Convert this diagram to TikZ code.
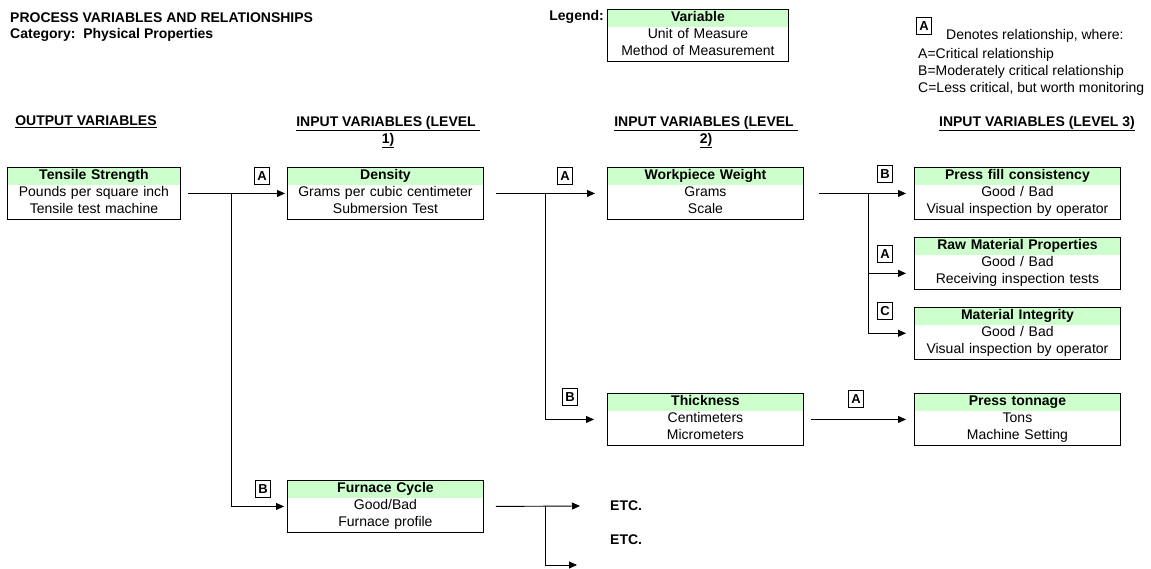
\documentclass[tikz,border=0pt]{standalone}
\usepackage{fontspec}
\setmainfont{Liberation Sans}
\usepackage{xcolor}
\usetikzlibrary{arrows.meta, positioning}

\definecolor{hdrgreen}{RGB}{204,255,204}

\begin{document}
\begin{tikzpicture}[
        x=1pt, y=-1pt,
        varbox/.style={rectangle, draw, line width=0.9pt, text width=#1, align=center,
            inner xsep=3pt, inner ysep=0.5pt, anchor=north west,
            font=\fontsize{14}{17}\selectfont,
            execute at begin node=\strut, execute at end node=\strut,
            path picture={\fill[hdrgreen] (path picture bounding box.north west)
                rectangle ([yshift=-17.5pt]path picture bounding box.north east);}},
        relbox/.style={rectangle, draw, line width=0.8pt, font=\bfseries\fontsize{13}{15}\selectfont,
            inner sep=0pt, minimum width=15pt, minimum height=17pt},
        arrow/.style={line width=0.9pt, -{Triangle[length=8pt, width=7pt]}},
        colhead/.style={font=\bfseries\fontsize{14}{17}\selectfont, align=center, anchor=north, inner sep=0pt},
        notetxt/.style={font=\fontsize{14}{17}\selectfont, anchor=west, inner sep=0pt},
        boldtxt/.style={font=\bfseries\fontsize{14}{17}\selectfont, anchor=west, inner sep=0pt}
    ]
        \useasboundingbox (0,0) rectangle (1151,569);

        % Title and legend
        \node[boldtxt] (title) at (10,18) {PROCESS VARIABLES AND RELATIONSHIPS};
        \node[boldtxt] (category) at (10,35) {Category:\ \ Physical Properties};
        \node[boldtxt, anchor=east] (legendlbl) at (604,17) {Legend:};
        \node[varbox=175pt] (legend) at (607,9) {\textbf{Variable}\\Unit of Measure\\Method of Measurement};
        \node[relbox] (relkey) at (924,26) {A};
        \node[notetxt] (keytxt) at (946,36) {Denotes relationship, where:};
        \node[notetxt] (keyA) at (918,55) {A=Critical relationship};
        \node[notetxt] (keyB) at (918,72) {B=Moderately critical relationship};
        \node[notetxt] (keyC) at (918,89) {C=Less critical, but worth monitoring};

        % Column headings
        \node[colhead] (head0) at (86,116) {\underline{OUTPUT VARIABLES}};
        \node[colhead] (head1) at (388,116) {\underline{INPUT VARIABLES (LEVEL\ }\\\underline{1)}};
        \node[colhead] (head2) at (706,116) {\underline{INPUT VARIABLES (LEVEL\ }\\\underline{2)}};
        \node[colhead] (head3) at (1037,116) {\underline{INPUT VARIABLES (LEVEL 3)}};

        % Variables
        \node[varbox=167pt] (tensile) at (7,167) {\textbf{Tensile Strength}\\Pounds per square inch\\Tensile test machine};
        \node[varbox=190pt] (density) at (287,167) {\textbf{Density}\\Grams per cubic centimeter\\Submersion Test};
        \node[varbox=190pt] (furnace) at (287,480) {\textbf{Furnace Cycle}\\Good/Bad\\Furnace profile};
        \node[varbox=190pt] (weight) at (607,167) {\textbf{Workpiece Weight}\\Grams\\Scale};
        \node[varbox=190pt] (thick) at (607,393) {\textbf{Thickness}\\Centimeters\\Micrometers};
        \node[varbox=200pt] (fill) at (914,167) {\textbf{Press fill consistency}\\Good / Bad\\Visual inspection by operator};
        \node[varbox=200pt, below=17pt of fill] (rawmat) {\textbf{Raw Material Properties}\\Good / Bad\\Receiving inspection tests};
        \node[varbox=200pt, below=17pt of rawmat] (integ) {\textbf{Material Integrity}\\Good / Bad\\Visual inspection by operator};
        \node[varbox=200pt] (tonnage) at (914,393) {\textbf{Press tonnage}\\Tons\\Machine Setting};

        % Output to level 1
        \coordinate (br1) at (231,193);
        \draw[arrow] ([xshift=7pt]tensile.east) -- ([xshift=-2pt]density.west);
        \draw[arrow] (br1) |- ([xshift=-3pt]furnace.west);
        \node[relbox] (relA1) at (262,176) {A};
        \node[relbox] (relB1) at (263,489) {B};

        % Level 1 to level 2
        \coordinate (br2) at (545,193);
        \draw[arrow] ([xshift=12pt]density.east) -- ([xshift=-12pt]weight.west);
        \draw[arrow] (br2) |- ([xshift=-13pt]thick.west);
        \node[relbox] (relA2) at (565,176) {A};
        \node[relbox] (relB2) at (570,397) {B};

        % Level 2 to level 3
        \coordinate (br3) at (868,193);
        \draw[arrow] ([xshift=15pt]weight.east) -- ([xshift=-8pt]fill.west);
        \draw[arrow] (br3) |- ([xshift=-8pt,yshift=-10pt]rawmat.west);
        \draw[arrow] (br3) |- ([xshift=-8pt]integ.west);
        \node[relbox] (relB3) at (885,174) {B};
        \node[relbox] (relA3) at (885,254) {A};
        \node[relbox] (relC3) at (885,311) {C};

        \draw[arrow] ([xshift=7pt]thick.east) -- ([xshift=-8pt]tonnage.west);
        \node[relbox] (relA4) at (856,399) {A};

        % Furnace onward
        \node[boldtxt] (etcA) at (610,506) {ETC.};
        \node[boldtxt] (etcB) at (610,540) {ETC.};
        \coordinate (br4) at (545,506);
        \coordinate (etcend) at (577,565);
        \draw[arrow] ([xshift=12pt]furnace.east) -- ([xshift=-30pt]etcA.west);
        \draw[arrow] (br4) |- (etcend);
\end{tikzpicture}
\end{document}
